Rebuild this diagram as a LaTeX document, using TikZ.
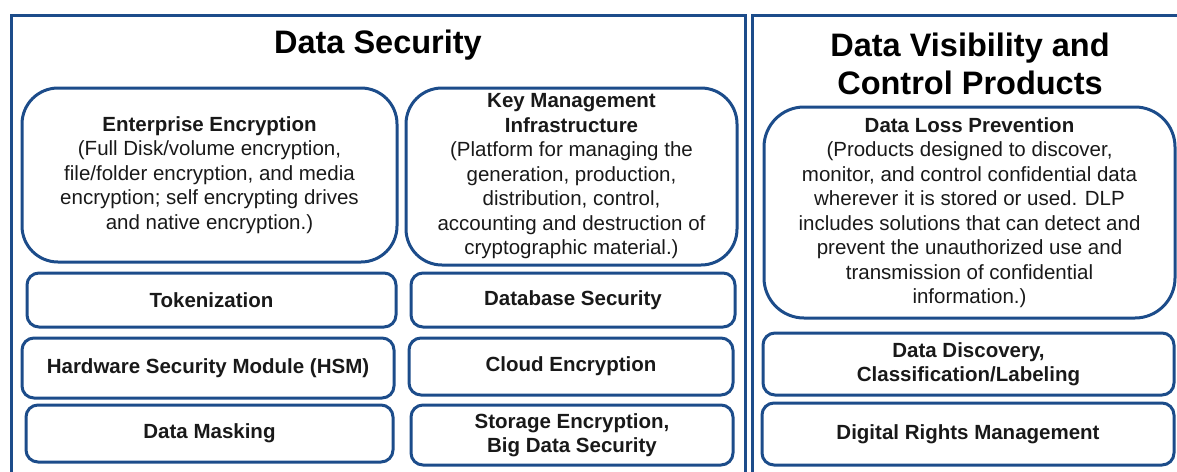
\documentclass[tikz,border=0pt]{standalone}
\usepackage{fontspec}
\setmainfont{Liberation Sans}
\definecolor{frameblue}{RGB}{28,76,138}
\definecolor{txtgray}{RGB}{25,25,25}
\begin{document}
\begin{tikzpicture}[x=1pt,y=-1pt,
  panel/.style={draw=frameblue,line width=3pt},
  bigbox/.style={draw=frameblue,line width=3pt,rounded corners=36pt,inner sep=0pt,align=center,
     font=\fontsize{20.5}{24.5}\selectfont,text=txtgray},
  smallbox/.style={draw=frameblue,line width=3pt,rounded corners=12pt,inner sep=0pt,align=center,
     font=\bfseries\fontsize{20.5}{24.5}\selectfont,text=txtgray},
  paneltitle/.style={align=center,font=\bfseries\fontsize{32.5}{38}\selectfont,inner sep=0pt}]
\useasboundingbox (0,0) rectangle (1177,471);
% panels
\draw[panel] (11,480) -- (11,15) -- (745,15) -- (745,480);
\draw[panel] (752,480) -- (752,15) -- (1190,15);
\node[paneltitle] (t1) at (378,45.5) {Data Security};
\node[paneltitle] (t2) at (970,64) {Data Visibility and\\Control Products};
% left column
\node[bigbox,minimum width=375pt,minimum height=174pt] (ee) at (209.5,175)
 {\textbf{Enterprise Encryption}\\(Full Disk/volume encryption,\\file/folder encryption, and media\\encryption; self encrypting drives\\and native encryption.)};
\node[bigbox,minimum width=331pt,minimum height=177pt] (kmi) at (571.5,176.5)
 {\textbf{Key Management}\\\textbf{Infrastructure}\\(Platform for managing the\\generation, production,\\distribution, control,\\accounting and destruction of\\cryptographic material.)};
\node[smallbox,minimum width=369pt,minimum height=54pt] (tok) at (211.5,300) {Tokenization};
\node[smallbox,minimum width=324pt,minimum height=54pt] (dbs) at (573,300) {Database Security};
\node[smallbox,minimum width=372pt,minimum height=60pt] (hsm) at (208,368) {Hardware Security Module (HSM)};
\node[smallbox,minimum width=324pt,minimum height=57pt] (ce) at (571,366.5) {Cloud Encryption};
\node[smallbox,minimum width=367pt,minimum height=57pt] (dm) at (209.5,433.5) {Data Masking};
\node[smallbox,minimum width=322pt,minimum height=60pt] (se) at (572,435) {Storage Encryption,\\Big Data Security};
% right column
\node[bigbox,minimum width=411pt,minimum height=211pt,rounded corners=40pt] (dlp) at (969.5,212.5)
 {\textbf{Data Loss Prevention}\\(Products designed to discover,\\monitor, and control confidential data\\wherever it is stored or used. DLP\\includes solutions that can detect and\\prevent the unauthorized use and\\transmission of confidential\\information.)};
\node[smallbox,minimum width=411pt,minimum height=62pt] (ddc) at (968.5,364) {Data Discovery,\\Classification/Labeling};
\node[smallbox,minimum width=412pt,minimum height=62pt] (drm) at (968,434) {Digital Rights Management};
\end{tikzpicture}
\end{document}
